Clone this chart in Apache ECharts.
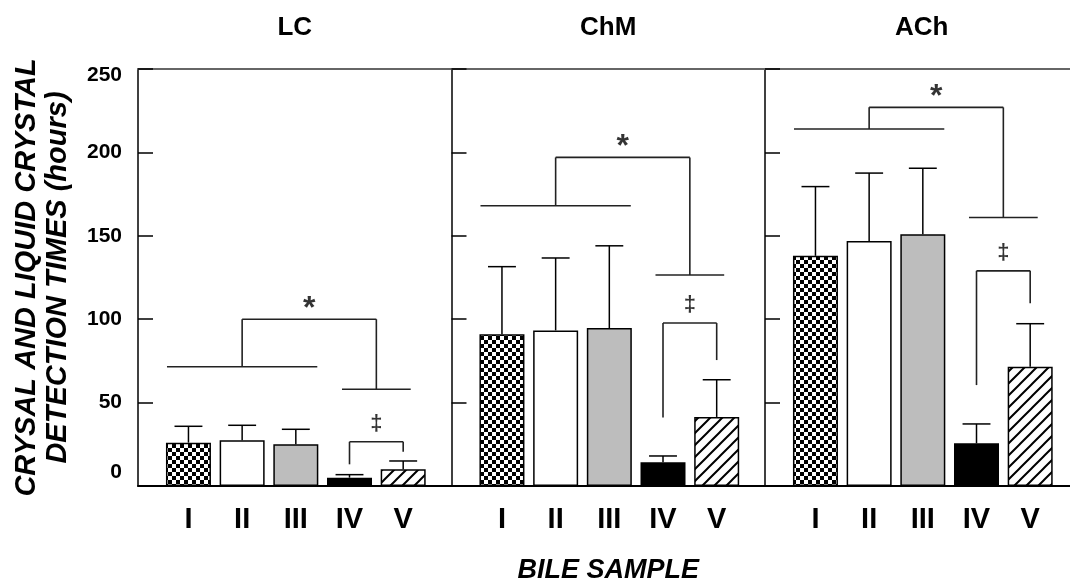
<!DOCTYPE html>
<html><head><meta charset="utf-8">
<script src="https://cdn.jsdelivr.net/npm/echarts@6/dist/echarts.min.js"></script>
<style>html,body{margin:0;padding:0;background:#fff}#c{width:1070px;height:580px}</style>
</head><body><div id="c"></div><script>
// ---- data ----
const panels = ['LC', 'ChM', 'ACh'];
const samples = ['I', 'II', 'III', 'IV', 'V'];
const yTicks = [0, 50, 100, 150, 200, 250];
const meanLC = [26, 27.4, 25, 5, 10];
const sdLC = [9.8, 9, 9, 1.8, 5];
const meanChM = [91, 93.3, 94.7, 14.2, 41.4];
const sdChM = [40.5, 43.4, 49.3, 3.8, 22.3];
const meanACh = [138, 146.9, 150.9, 25.6, 71.5];
const sdACh = [41.5, 40.7, 39.6, 11.6, 25.8];
// significance brackets (hours)
const starGroupY = [71.5, 168, 214];
const starTopY = [100, 197, 227];
const starSingleY = [58, 126.5, 161];
const daggerTopY = [26.5, 97.7, 129];
const daggerLeftY = [13, 41, 60.5];
const daggerRightY = [20.5, 75.5, 109.5];

const means = [meanLC, meanChM, meanACh];
const sds = [sdLC, sdChM, sdACh];

// ---- fills ----
function checker() {
  const c = document.createElement('canvas'); c.width = c.height = 8;
  const g = c.getContext('2d');
  g.fillStyle = '#fff'; g.fillRect(0, 0, 8, 8);
  g.fillStyle = '#000'; g.fillRect(0, 0, 4, 4); g.fillRect(4, 4, 4, 4);
  return c;
}
function hatch() {
  const s = 12;
  const c = document.createElement('canvas'); c.width = c.height = s;
  const g = c.getContext('2d');
  g.fillStyle = '#fff'; g.fillRect(0, 0, s, s);
  g.strokeStyle = '#000'; g.lineWidth = 2; g.beginPath();
  for (let k = -1; k <= 1; k++) { g.moveTo(k * s - 1, s + 1); g.lineTo(k * s + s + 1, -1); }
  g.stroke();
  return c;
}
const fills = [{image: checker(), repeat: 'repeat'}, '#ffffff', '#bdbdbd', '#000000', {image: hatch(), repeat: 'repeat'}];

const FONT = "'Liberation Sans', Arial, Helvetica, sans-serif";
const gridLeft = [138, 451.5, 765];
const XMIN = 0.06, XMAX = 5.9;

const grid = [], xAxis = [], yAxis = [], series = [];
for (let p = 0; p < 3; p++) {
  grid.push({left: gridLeft[p], top: 69, width: 313.5, height: 417, containLabel: false, outerBoundsMode: 'none'});
  xAxis.push({
    type: 'value', gridIndex: p, min: XMIN, max: XMAX, position: 'bottom',
    axisLine: {show: true, lineStyle: {color: '#000', width: 2}},
    axisTick: {show: false}, splitLine: {show: false},
    axisLabel: {show: true, customValues: [1, 2, 3, 4, 5], formatter: v => samples[Math.round(v) - 1] || '',
      fontFamily: FONT, fontWeight: 'bold', fontSize: 29, color: '#000', margin: 19},
    name: p === 1 ? 'BILE SAMPLE' : '', nameLocation: 'middle', nameGap: 71,
    nameTextStyle: {fontFamily: FONT, fontWeight: 'bold', fontStyle: 'italic', fontSize: 27, color: '#000'}
  });
}
for (let p = 0; p < 3; p++) {
  xAxis.push({
    type: 'value', gridIndex: p, min: XMIN, max: XMAX, position: 'top',
    axisLine: {show: true, lineStyle: {color: '#666', width: 2}},
    axisTick: {show: false}, axisLabel: {show: false}, splitLine: {show: false},
    name: panels[p], nameLocation: 'middle', nameGap: 28,
    nameTextStyle: {fontFamily: FONT, fontWeight: 'bold', fontSize: 26, color: '#000'}
  });
  yAxis.push({
    type: 'value', gridIndex: p, min: yTicks[0], max: yTicks[yTicks.length - 1], interval: 50,
    axisLine: {show: true, lineStyle: {color: '#000', width: 1.5}},
    axisTick: {show: true, inside: true, length: 15, lineStyle: {color: '#000', width: 1.5}},
    splitLine: {show: false},
    axisLabel: {show: p === 0, margin: 16, fontFamily: FONT, fontWeight: 'bold', fontSize: 21, color: '#000',
      formatter: v => v === 0 ? '{lo|0}' : (v === 250 ? '{hi|250}' : '{n|' + v + '}'),
      rich: {
        lo: {fontFamily: FONT, fontWeight: 'bold', fontSize: 21, color: '#000', padding: [0, 0, 28, 0]},
        hi: {fontFamily: FONT, fontWeight: 'bold', fontSize: 21, color: '#000', padding: [12, 0, 0, 0]},
        n: {fontFamily: FONT, fontWeight: 'bold', fontSize: 21, color: '#000'}
      }},
    name: p === 0 ? 'CRYSAL AND LIQUID CRYSTAL\nDETECTION TIMES (hours)' : '',
    nameLocation: 'middle', nameRotate: 90, nameGap: 65,
    nameTextStyle: {fontFamily: FONT, fontWeight: 'bold', fontStyle: 'italic', fontSize: 29, lineHeight: 31, color: '#000'}
  });

  // bars
  series.push({
    type: 'bar', xAxisIndex: p, yAxisIndex: p, barWidth: 45, z: 2,
    itemStyle: {borderColor: '#000', borderWidth: 1.5},
    data: samples.map((s, i) => ({value: [i + 1, means[p][i]], itemStyle: {color: fills[i]}}))
  });
  // error bars
  series.push({
    type: 'custom', xAxisIndex: p, yAxisIndex: p, z: 3,
    encode: {x: 0, y: [1, 2]},
    data: samples.map((s, i) => [i + 1, means[p][i], means[p][i] + sds[p][i]]),
    renderItem: (params, api) => {
      const x = api.value(0);
      const b = api.coord([x, api.value(1)]);
      const t = api.coord([x, api.value(2)]);
      const l = api.coord([x - 0.26, api.value(2)]);
      const r = api.coord([x + 0.26, api.value(2)]);
      const st = {stroke: '#000', lineWidth: 1.5};
      return {type: 'group', children: [
        {type: 'line', shape: {x1: b[0], y1: b[1], x2: t[0], y2: t[1]}, style: st},
        {type: 'line', shape: {x1: l[0], y1: l[1], x2: r[0], y2: r[1]}, style: st}
      ]};
    }
  });
  // brackets
  const g = starGroupY[p], t = starTopY[p], s = starSingleY[p];
  const dt = daggerTopY[p], dl = daggerLeftY[p], dr = daggerRightY[p];
  series.push({
    type: 'custom', xAxisIndex: p, yAxisIndex: p, z: 4,
    encode: {x: [0, 2], y: [1, 3]},
    data: [
      [0.6, g, 3.4, g], [2, g, 2, t], [2, t, 4.5, t], [4.5, t, 4.5, s], [3.86, s, 5.14, s],
      [4, dl, 4, dt], [4, dt, 5, dt], [5, dt, 5, dr]
    ],
    renderItem: (params, api) => {
      const a = api.coord([api.value(0), api.value(1)]);
      const c = api.coord([api.value(2), api.value(3)]);
      return {type: 'line', shape: {x1: a[0], y1: a[1], x2: c[0], y2: c[1]}, style: {stroke: '#222', lineWidth: 1.6}};
    }
  });
  // significance symbols
  series.push({
    type: 'scatter', xAxisIndex: p, yAxisIndex: p, z: 5, symbolSize: 1,
    itemStyle: {color: 'rgba(0,0,0,0)'},
    silent: true,
    data: [
      {value: [3.25, t], label: {show: true, formatter: '*', position: 'inside', offset: [0, -10],
        fontFamily: FONT, fontWeight: 'bold', fontSize: 32, color: '#000'}},
      {value: [4.5, dt], label: {show: true, formatter: '\u2021', position: 'inside', offset: [0, -18],
        fontFamily: FONT, fontWeight: 'bold', fontSize: 22, color: '#000'}}
    ]
  });
}
const chart = echarts.init(document.getElementById('c'), null, {renderer: 'canvas'});
chart.setOption({animation: false, backgroundColor: '#fff', grid, xAxis, yAxis, series});
</script></body></html>
